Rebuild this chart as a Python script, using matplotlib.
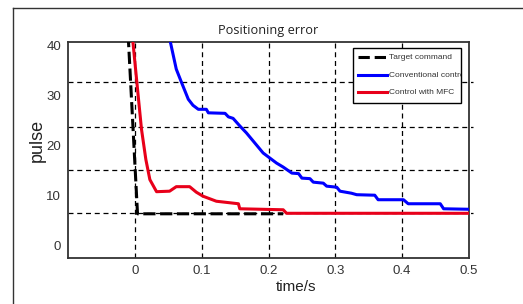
import numpy as np
import matplotlib.pyplot as plt
from matplotlib.lines import Line2D
from matplotlib.patches import Rectangle

# data
target_t = [-0.01, 0.004, 0.222]
target_v = [42.0, 6.4, 6.4]

mfc_t = [-0.003, 0.005, 0.010, 0.0165, 0.0225, 0.0325, 0.052, 0.062, 0.082, 0.092,
         0.102, 0.122, 0.155, 0.157, 0.222, 0.227, 0.5]
mfc_v = [40.8, 29.9, 23.2, 17.2, 13.2, 10.8, 10.9, 11.8, 11.8, 10.7,
         9.9, 8.9, 8.4, 7.4, 7.2, 6.5, 6.5]

conv_t = [0.053, 0.062, 0.070, 0.080, 0.087, 0.095, 0.107, 0.110, 0.135, 0.140, 0.147,
          0.157, 0.167, 0.177, 0.192, 0.202, 0.212, 0.222, 0.235, 0.245, 0.250, 0.262,
          0.267, 0.282, 0.287, 0.302, 0.307, 0.324, 0.332, 0.359, 0.364, 0.402, 0.409,
          0.457, 0.462, 0.5]
conv_v = [40.7, 35.2, 32.5, 29.2, 28.0, 27.2, 27.2, 26.5, 26.4, 25.7, 25.4,
          23.9, 22.5, 20.9, 18.5, 17.5, 16.5, 15.7, 14.5, 14.4, 13.5, 13.4,
          12.7, 12.5, 11.9, 11.7, 10.9, 10.5, 10.2, 10.1, 9.2, 9.2, 8.4,
          8.4, 7.4, 7.3]

hgrid = [32.6, 23.6, 15.2, 6.6]
xticks = [0, 0.1, 0.2, 0.3, 0.4, 0.5]
yticks = [0, 10, 20, 30, 40]
labels = ['Target command', 'Conventional control', 'Control with MFC']

fig = plt.figure(figsize=(5.23, 3.04), dpi=100)
# outer frame (cut off at right and bottom)
fig.add_artist(Line2D([13/523, 13/523], [0, 1 - 8/304], transform=fig.transFigure,
                      color='#333333', lw=1.0))
fig.add_artist(Line2D([13/523, 1], [1 - 8/304, 1 - 8/304], transform=fig.transFigure,
                      color='#333333', lw=1.0))

ax = fig.add_axes([68/523, 46/304, 401/523, 216/304])
ax.set_xlim(-0.1, 0.5)
ax.set_ylim(-2.4, 40.6)

for x in xticks[:-1]:
    ax.axvline(x, color='black', ls=(0, (4, 3)), lw=0.9, zorder=1)
for y in hgrid:
    ax.hlines(y, -0.1, 0.506, color='black', linestyles=(0, (4, 3)), lw=0.9, zorder=1, clip_on=False)

l1, = ax.plot(target_t, target_v, color='black', ls=(0, (4, 1.5)), lw=2.2, zorder=3)
l2, = ax.plot(conv_t, conv_v, color='#0000ff', lw=2.2, zorder=3)
l3, = ax.plot(mfc_t, mfc_v, color='#e8001a', lw=2.2, zorder=4)

ax.set_xticks(xticks)
ax.set_xticklabels(['0', '0.1', '0.2', '0.3', '0.4', '0.5'])
ax.set_yticks(yticks)
ax.tick_params(length=0, labelsize=9.5, labelcolor='#333333', pad=5)
for lab in ax.get_xticklabels() + ax.get_yticklabels():
    lab.set_family('Liberation Sans')
for s in ax.spines.values():
    s.set_color('#333333')
    s.set_linewidth(1.3)

ax.set_xlabel('time/s', family='Liberation Sans', fontsize=11, color='#222222', va='center')
ax.xaxis.set_label_coords(0.569, -0.134)
ax.set_ylabel('pulse', family='Liberation Sans', fontsize=13, color='#222222', va='center')
ax.yaxis.set_label_coords(-0.077, 0.542)
ax.set_title('Positioning error', family='Open Sans', fontsize=9.2, color='#222222', pad=6)

# legend box drawn by hand so the long label gets cut at the frame like in the original
box = Rectangle((0.711, 0.718), 0.269, 0.254, transform=ax.transAxes, facecolor='white',
                edgecolor='black', lw=1.0, zorder=5)
ax.add_patch(box)
rows = [0.931, 0.849, 0.770]
for line, lab, yy in zip([l1, l2, l3], labels, rows):
    ax.add_line(Line2D([0.723, 0.796], [yy, yy], transform=ax.transAxes, color=line.get_color(),
                       ls=line.get_linestyle(), lw=2.2, zorder=6))
    t = ax.text(0.800, yy, lab, transform=ax.transAxes, fontsize=6, family='Liberation Sans',
                color='#333333', va='center_baseline', ha='left', zorder=6)
    t.set_clip_on(True)
    t.set_clip_path(box)

fig.savefig('out.png', dpi=100)
